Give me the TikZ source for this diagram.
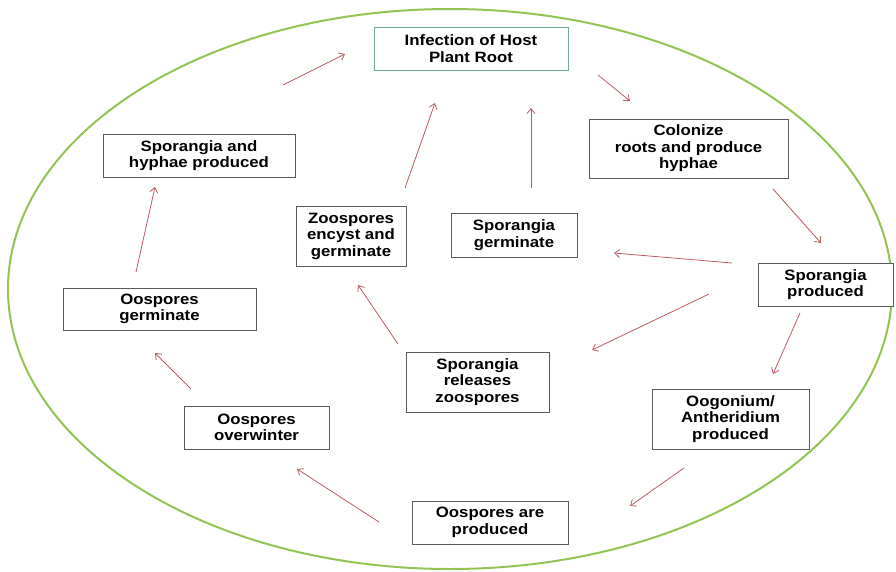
\documentclass[tikz,border=0pt]{standalone}
\usepackage{fontspec}
\setmainfont{Liberation Sans}[FakeStretch=1.12]
\usetikzlibrary{arrows.meta}
\definecolor{ringgreen}{RGB}{146,196,84}
\definecolor{arrowred}{RGB}{190,90,95}
\definecolor{boxgray}{RGB}{90,90,90}
\definecolor{tealbox}{RGB}{110,170,150}
\tikzset{
  box/.style={draw=boxgray, line width=0.9pt, fill=white, inner sep=0pt, align=center,
    font=\fontsize{15}{16.5}\selectfont\bfseries},
  flow/.style={draw=arrowred, line width=0.8pt, -{Straight Barb[length=5pt,width=8pt]}}
}
\begin{document}
\begin{tikzpicture}[x=1pt,y=-1pt]
\useasboundingbox (0,0) rectangle (896,571);
\draw[ringgreen, line width=2pt] (450,289) ellipse [x radius=442, y radius=280];

\node[box, draw=tealbox, minimum width=194pt, minimum height=43pt] (infect) at (471,48.5) {Infection of Host\\Plant Root};
\node[box, minimum width=192pt, minimum height=43pt] (sphy) at (199,155.5) {Sporangia and\\hyphae produced};
\node[box, minimum width=199pt, minimum height=59pt] (colon) at (688.5,148.5) {Colonize\\roots and produce\\hyphae};
\node[box, minimum width=135pt, minimum height=43pt] (sprod) at (825.5,284.5) {Sporangia\\produced};
\node[box, minimum width=110pt, minimum height=60pt] (zenc) at (351,236) {Zoospores\\encyst and\\germinate};
\node[box, minimum width=126pt, minimum height=44pt] (sgerm) at (514,235) {Sporangia\\germinate};
\node[box, minimum width=193pt, minimum height=42pt] (ogerm) at (159.5,309) {Oospores\\germinate};
\node[box, minimum width=143pt, minimum height=60pt] (srel) at (477.5,382) {Sporangia\\releases\\zoospores};
\node[box, minimum width=145pt, minimum height=43pt] (oover) at (256.5,427.5) {Oospores\\overwinter};
\node[box, minimum width=157pt, minimum height=60pt] (oogon) at (730.5,419) {Oogonium/\\Antheridium\\produced};
\node[box, minimum width=156pt, minimum height=43pt] (oprod) at (490,522.5) {Oospores are\\produced};

% arrow end points
\coordinate (a1) at (283,85);  \coordinate (a2) at (345,54);
\coordinate (b1) at (598,75);  \coordinate (b2) at (630,101);
\coordinate (c1) at (773,189); \coordinate (c2) at (821,243);
\coordinate (d1) at (800,313); \coordinate (d2) at (773,374);
\coordinate (e1) at (684,468); \coordinate (e2) at (630,506);
\coordinate (f1) at (379,522); \coordinate (f2) at (297,469);
\coordinate (g1) at (191,389); \coordinate (g2) at (155,353);
\coordinate (h1) at (136,272); \coordinate (h2) at (155,187);
\coordinate (i1) at (405,188); \coordinate (i2) at (435,103);
\coordinate (j1) at (531,188); \coordinate (j2) at (531,108);
\coordinate (k1) at (732,263); \coordinate (k2) at (614,253);
\coordinate (l1) at (709,294); \coordinate (l2) at (592,350);
\coordinate (m1) at (398,344); \coordinate (m2) at (358,285);

\draw[flow] (a1) -- (a2);
\draw[flow] (b1) -- (b2);
\draw[flow] (c1) -- (c2);
\draw[flow] (d1) -- (d2);
\draw[flow] (e1) -- (e2);
\draw[flow] (f1) -- (f2);
\draw[flow] (g1) -- (g2);
\draw[flow] (h1) -- (h2);
\draw[flow] (i1) -- (i2);
\draw[flow] (j1) -- (j2);
\draw[flow] (k1) -- (k2);
\draw[flow] (l1) -- (l2);
\draw[flow] (m1) -- (m2);
\end{tikzpicture}
\end{document}
